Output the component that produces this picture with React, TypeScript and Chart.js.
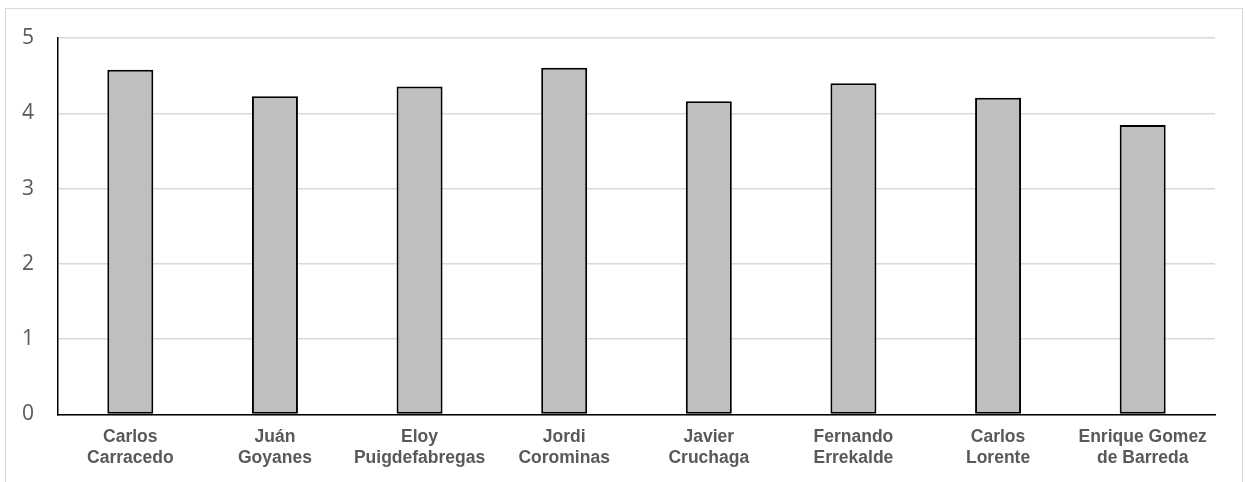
import React, { useEffect, useRef } from "react";
import { Chart, registerables } from "chart.js";

Chart.register(...registerables);

const categories: string[][] = [
  ["Carlos", "Carracedo"],
  ["Juán", "Goyanes"],
  ["Eloy", "Puigdefabregas"],
  ["Jordi", "Corominas"],
  ["Javier", "Cruchaga"],
  ["Fernando", "Errekalde"],
  ["Carlos", "Lorente"],
  ["Enrique Gomez", "de Barreda"],
];

const values: number[] = [4.58, 4.225, 4.355, 4.605, 4.16, 4.4, 4.205, 3.845];

const yTicks: number[] = [0, 1, 2, 3, 4, 5];

export default function App() {
  const canvasRef = useRef<HTMLCanvasElement | null>(null);

  useEffect(() => {
    document.body.style.margin = "0";
    const ctx = canvasRef.current!;
    const chart = new Chart(ctx, {
      type: "bar",
      data: {
        labels: categories,
        datasets: [
          {
            data: values,
            backgroundColor: "#bfbfbf",
            borderColor: "#000000",
            borderWidth: 2,
            borderSkipped: false,
            barPercentage: 0.318,
            categoryPercentage: 1,
          },
        ],
      },
      options: {
        animation: false,
        responsive: false,
        maintainAspectRatio: false,
        layout: { padding: { left: 0, right: 31, top: 38, bottom: 0 } },
        plugins: {
          legend: { display: false },
          tooltip: { enabled: false },
        },
        scales: {
          x: {
            grid: { display: false, drawTicks: false },
            border: { display: true, color: "#000000", width: 1.5 },
            ticks: {
              color: "#595959",
              font: { family: "'Liberation Sans', Arial", size: 17.5, weight: "bold", lineHeight: 1.15 },
              padding: 13,
              maxRotation: 0,
              autoSkip: false,
            },
            afterFit: (scale: any) => {
              scale.height = 67.5;
            },
          },
          y: {
            min: 0,
            max: 5,
            afterBuildTicks: (scale: any) => {
              scale.ticks = yTicks.map((v) => ({ value: v }));
            },
            grid: { color: "#d9d9d9", lineWidth: 1.5, drawTicks: false },
            border: { display: true, color: "#000000", width: 1.5 },
            ticks: {
              color: "#595959",
              font: { family: "'Open Sans', 'Liberation Sans'", size: 21 },
              padding: 24,
            },
            afterFit: (scale: any) => {
              scale.width = 58;
            },
          },
        },
      },
    });
    return () => chart.destroy();
  }, []);

  return (
    <div style={{ position: "fixed", left: 0, top: 0, width: 1246, height: 482, background: "#fff", overflow: "hidden" }}>
      <div
        style={{
          position: "absolute",
          left: 5,
          top: 8,
          width: 1238,
          height: 500,
          border: "1.5px solid #d9d9d9",
          boxSizing: "border-box",
        }}
      />
      <canvas ref={canvasRef} width={1246} height={482} style={{ position: "absolute", left: 0, top: 0 }} />
    </div>
  );
}
